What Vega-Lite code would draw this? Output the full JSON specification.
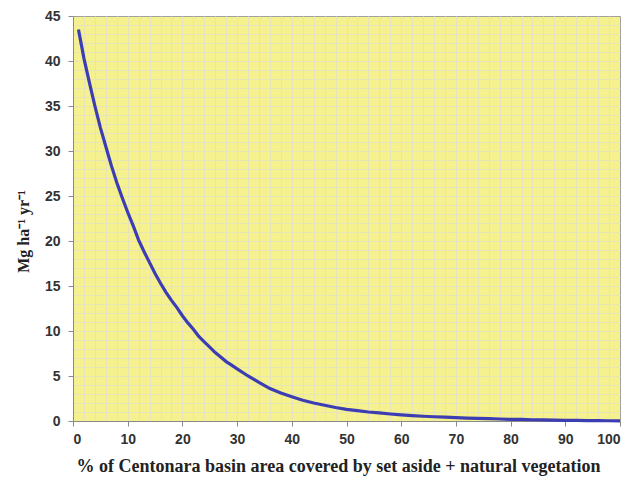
{
  "$schema": "https://vega.github.io/schema/vega-lite/v6.json",
  "width": 547,
  "height": 405,
  "autosize": {"type": "none"},
  "padding": {"left": 73, "top": 16, "right": 20, "bottom": 56},
  "background": "white",
  "config": {
    "view": {"fill": "#F6F18F", "stroke": "#a0a0a0", "strokeWidth": 1}
  },
  "data": {
    "values": [
      {"x": 1, "y": 43.5}, {"x": 2, "y": 40.3}, {"x": 3, "y": 37.6}, {"x": 4, "y": 35.0},
      {"x": 5, "y": 32.6}, {"x": 6, "y": 30.5}, {"x": 7, "y": 28.4}, {"x": 8, "y": 26.5},
      {"x": 9, "y": 24.8}, {"x": 10, "y": 23.2}, {"x": 11, "y": 21.7}, {"x": 12, "y": 20.1},
      {"x": 13, "y": 18.8}, {"x": 14, "y": 17.6}, {"x": 15, "y": 16.4}, {"x": 16, "y": 15.3},
      {"x": 17, "y": 14.3}, {"x": 18, "y": 13.4}, {"x": 19, "y": 12.6}, {"x": 20, "y": 11.7},
      {"x": 21, "y": 10.9}, {"x": 22, "y": 10.2}, {"x": 23, "y": 9.4}, {"x": 24, "y": 8.8},
      {"x": 25, "y": 8.2}, {"x": 26, "y": 7.6}, {"x": 27, "y": 7.1}, {"x": 28, "y": 6.6},
      {"x": 29, "y": 6.2}, {"x": 30, "y": 5.8}, {"x": 32, "y": 5.0}, {"x": 34, "y": 4.3},
      {"x": 36, "y": 3.6}, {"x": 38, "y": 3.1}, {"x": 40, "y": 2.7}, {"x": 42, "y": 2.3},
      {"x": 44, "y": 2.0}, {"x": 46, "y": 1.75}, {"x": 48, "y": 1.5}, {"x": 50, "y": 1.3},
      {"x": 52, "y": 1.15}, {"x": 54, "y": 1.0}, {"x": 56, "y": 0.9}, {"x": 58, "y": 0.78},
      {"x": 60, "y": 0.68}, {"x": 62, "y": 0.6}, {"x": 64, "y": 0.53}, {"x": 66, "y": 0.47},
      {"x": 68, "y": 0.42}, {"x": 70, "y": 0.37}, {"x": 72, "y": 0.33}, {"x": 74, "y": 0.3},
      {"x": 76, "y": 0.26}, {"x": 78, "y": 0.22}, {"x": 80, "y": 0.19}, {"x": 82, "y": 0.17},
      {"x": 84, "y": 0.14}, {"x": 86, "y": 0.12}, {"x": 88, "y": 0.1}, {"x": 90, "y": 0.08},
      {"x": 92, "y": 0.07}, {"x": 94, "y": 0.05}, {"x": 96, "y": 0.04}, {"x": 98, "y": 0.03},
      {"x": 100, "y": 0.02}
    ]
  },
  "layer": [
    {
      "mark": {"type": "line", "opacity": 0},
      "encoding": {
        "x": {
          "field": "x", "type": "quantitative",
          "scale": {"domain": [0, 100], "nice": false},
          "axis": {
            "orient": "top", "grid": true, "gridColor": "#E6E4B8", "gridWidth": 1,
            "values": [2,4,6,8,10,12,14,16,18,20,22,24,26,28,30,32,34,36,38,40,42,44,46,48,50,52,54,56,58,60,62,64,66,68,70,72,74,76,78,80,82,84,86,88,90,92,94,96,98],
            "labels": false, "ticks": false, "domain": false, "title": null
          }
        },
        "y": {
          "field": "y", "type": "quantitative",
          "scale": {"domain": [0, 45], "nice": false},
          "axis": {
            "orient": "right", "grid": true, "gridColor": "#E6E4B8", "gridWidth": 1,
            "values": [1,2,3,4,5,6,7,8,9,10,11,12,13,14,15,16,17,18,19,20,21,22,23,24,25,26,27,28,29,30,31,32,33,34,35,36,37,38,39,40,41,42,43,44],
            "labels": false, "ticks": false, "domain": false, "title": null
          }
        }
      }
    },
    {
      "mark": {"type": "line", "color": "#3C3DB3", "strokeWidth": 3.2, "interpolate": "linear"},
      "encoding": {
        "x": {
          "field": "x", "type": "quantitative",
          "scale": {"domain": [0, 100], "nice": false},
          "axis": {
            "orient": "bottom", "grid": false, "values": [0,10,20,30,40,50,60,70,80,90,100],
            "domainColor": "#8a8a8a", "tickColor": "#8a8a8a", "tickSize": 5,
            "labelFont": "Liberation Sans", "labelFontWeight": "bold", "labelFontSize": 14,
            "labelColor": "#333333", "labelPadding": 6,
            "title": "% of Centonara basin area covered by set aside + natural vegetation",
            "titleFont": "Liberation Serif", "titleFontWeight": "bold", "titleFontSize": 18,
            "titleColor": "#222222", "titlePadding": 11, "titleX": 265
          }
        },
        "y": {
          "field": "y", "type": "quantitative",
          "scale": {"domain": [0, 45], "nice": false},
          "axis": {
            "orient": "left", "grid": false, "values": [0,5,10,15,20,25,30,35,40,45],
            "domainColor": "#8a8a8a", "tickColor": "#8a8a8a", "tickSize": 5,
            "labelFont": "Liberation Sans", "labelFontWeight": "bold", "labelFontSize": 14,
            "labelColor": "#333333", "labelPadding": 8,
            "title": "Mg ha⁻¹ yr⁻¹",
            "titleFont": "Liberation Serif", "titleFontWeight": "bold", "titleFontSize": 16,
            "titleColor": "#222222", "titlePadding": 13, "titleY": 215
          }
        }
      }
    }
  ],
  "resolve": {"axis": {"x": "independent", "y": "independent"}}
}
